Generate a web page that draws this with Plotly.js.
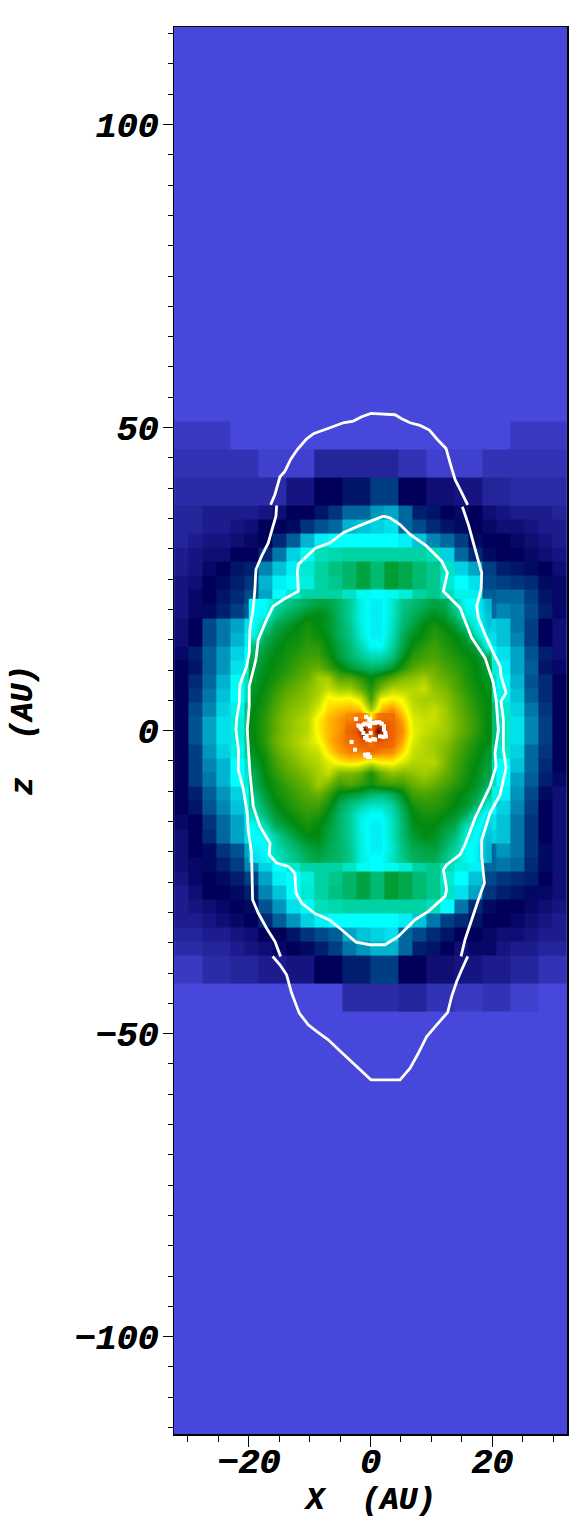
<!DOCTYPE html>
<html>
<head>
<meta charset="utf-8">
<script src="https://cdn.plot.ly/plotly-3.0.1.min.js"></script>
<style>
  html, body { margin: 0; padding: 0; background: #fff; }
</style>
</head>
<body>
<div id="chart" style="width:585px;height:1540px;"></div>
<script>
// Colour scale, values are on a 0-100 scale
const scaleStops = [0, 10, 20, 30, 40, 50, 60, 70, 75, 82, 90, 100];
const scaleColors = ['#4747db', '#00005a', '#00689e', '#00ffff', '#00c88c', '#008a10',
                     '#6ab000', '#c8e000', '#ffff00', '#ffa000', '#e85000', '#500000'];

// Coarse blocks (outer part of the grid), listed top to bottom
const blockX = [-32.24, -29.94, -27.63, -25.33, -23.03, -20.72, -18.42, -16.12, -13.82, -11.51, -9.21, -6.91, -4.61, -2.3, 0,
                2.3, 4.61, 6.91, 9.21, 11.51, 13.82, 16.12, 18.42, 20.72, 23.03, 25.33, 27.63, 29.94, 32.24];
const blockZ = [51, 46.4, 41.77, 37.13, 34.81, 32.49, 30.17, 27.85, 25.53, 23.21, 20.89, 18.57, 16.25, 13.93, 11.6, 9.28, 6.96, 4.64, 2.32, 0,
                -2.32, -4.64, -6.96, -9.28, -11.6, -13.93, -16.25, -18.57, -20.89, -23.21, -25.53, -27.85, -30.17, -32.49, -34.81, -37.13, -41.77, -46.4];
const blockRows = [
  [2,2,2,2,0,0,0,0,0,0,0,0,0,0,0,0,0,0,0,0,0,0,0,0,2,2,2,2],
  [3,3,3,3,3,3,1,1,1,1,5,5,5,5,5,5,3,3,1,1,1,1,3,3,3,3,3,3],
  [4,4,4,4,4,4,4,4,7,7,10,10,12,12,16,16,10,10,8,8,7,7,5,5,4,4,4,4],
  [5,5,6,6,6,6,7,8,10,10,12,15,20,20,23,24,20,13,12,10,9,10,8,7,6,6,6,5],
  [5,5,6,6,7,8,10,10,11,15,18,20,25,26,27,28,20,17,14,12,11,10,9,8,8,7,6,6],
  [5,6,7,7,8,9,10,14,19,25,29,30,30,30,30,30,29,26,22,20,16,11,10,10,9,8,7,6],
  [6,7,8,8,10,10,14,21,27,31,36,37,38,38,38,38,38,38,36,27,20,14,11,10,10,9,8,7],
  [6,7,9,10,12,13,22,26,29,34,38,41,43,46,42,47,45,42,40,35,27,24,16,13,12,11,10,8],
  [7,8,10,11,13,15,25,29,30,33,38,40,43,46,42,47,45,42,40,34,30,28,17,16,15,14,11,9],
  [7,9,10,12,14,17,24,30,34,38,38,38,35,31,30,31,33,38,40,36,32,29,19,20,20,16,12,9],
  [7,9,11,13,16,19,23,31,38,44,42,40,35,30,29,31,36,42,44,40,33,30,20,22,21,17,13,9],
  [8,10,17,21,24,28,36,50,50,50,50,50,50,50,50,50,50,50,50,50,50,36,27,26,21,16,10,8],
  [8,10,17,21,25,29,36,50,50,50,50,50,50,50,50,50,50,50,50,50,50,36,28,26,22,16,10,8],
  [9,13,19,23,27,30,38,50,50,50,50,50,50,50,50,50,50,50,50,50,50,38,30,28,24,18,13,8],
  [10,12,19,23,28,32,40,50,50,50,50,50,50,50,50,50,50,50,50,50,50,40,33,29,24,19,12,9],
  [10,14,20,25,31,36,45,50,50,50,50,50,50,50,50,50,50,50,50,50,50,45,36,31,25,18,14,10],
  [10,15,21,26,30,36,46,50,50,50,50,50,50,50,50,50,50,50,50,50,50,46,38,32,26,19,14,10],
  [10,17,22,27,32,40,48,50,50,50,50,50,50,50,50,50,50,50,50,50,50,48,42,34,27,21,15,10],
  [10,18,24,28,33,40,48,50,50,50,50,50,50,50,50,50,50,50,50,50,50,48,42,35,28,22,16,10],
  [10,18,24,28,33,40,48,50,50,50,50,50,50,50,50,50,50,50,50,50,50,48,42,35,28,22,16,10],
  [10,16,23,27,32,38,46,50,50,50,50,50,50,50,50,50,50,50,50,50,50,47,40,34,27,20,15,10],
  [10,16,22,25,30,35,44,50,50,50,50,50,50,50,50,50,50,50,50,50,50,46,37,30,26,20,14,10],
  [10,16,21,25,30,34,43,50,50,50,50,50,50,50,50,50,50,50,50,50,50,44,36,30,24,19,13,9],
  [10,13,19,23,27,31,40,50,50,50,50,50,50,50,50,50,50,50,50,50,50,40,32,29,23,17,11,8],
  [10,12,18,22,26,30,38,50,50,50,50,50,50,50,50,50,50,50,50,50,50,38,30,27,22,16,10,8],
  [9,10,15,20,24,28,36,50,50,50,50,50,50,50,50,50,50,50,50,50,50,36,28,26,21,15,10,8],
  [8,10,14,20,24,28,35,50,50,50,50,50,50,50,50,50,50,50,50,50,50,35,27,26,21,15,10,8],
  [8,10,11,15,18,24,31,38,44,44,42,40,35,30,29,31,36,42,44,40,33,30,20,23,21,15,11,8],
  [8,9,11,13,16,22,27,30,34,38,38,38,35,31,30,31,33,38,40,36,33,29,20,21,20,14,11,8],
  [7,9,10,11,13,16,24,29,30,33,38,40,43,46,42,47,45,42,40,34,30,26,17,15,14,13,10,8],
  [6,8,10,10,11,13,22,26,30,34,38,41,43,46,42,47,45,42,40,35,28,24,15,13,12,11,9,8],
  [6,7,8,9,10,11,18,23,28,31,36,37,38,38,38,38,38,38,36,30,21,14,11,10,10,9,8,7],
  [6,6,7,8,9,10,14,19,23,27,29,30,30,30,30,30,29,26,21,16,14,12,10,10,9,8,7,6],
  [5,5,6,6,7,8,10,10,12,15,17,19,24,26,27,28,20,17,14,12,10,10,9,8,8,7,6,6],
  [4,4,5,5,6,7,8,9,10,11,13,16,21,23,25,25,20,13,12,10,8,9,9,7,6,6,5,5],
  [2,2,4,4,5,5,6,6,7,7,10,10,13,13,16,16,10,10,8,8,7,7,6,6,5,5,3,3],
  [0,0,0,0,0,0,0,0,0,0,0,0,4,4,4,4,5,5,3,3,2,2,3,3,1,1,0,0]
];

// Smooth middle region, listed bottom to top
const smoothX = [-19.14,-17.4,-15.66,-13.92,-12.18,-10.44,-8.7,-6.96,-5.22,-3.48,-1.74,0,1.74,3.48,5.22,6.96,8.7,10.44,12.18,13.92,15.66,17.4,19.14];
const smoothZ = [-20.88,-19.14,-17.4,-15.66,-13.92,-12.18,-10.44,-8.7,-6.96,-5.22,-3.48,-1.74,0,1.74,3.48,5.22,6.96,8.7,10.44,12.18,13.92,15.66,17.4,19.14,20.88];
const smoothRows = [
  [28,29,34,38,41,44,46,44,43,40,33,30,30,35,40,44,45,45,41,36,31,29,25],
  [29,30,36,40,43,46,48,45,43,40,33,29,29,34,41,45,46,47,43,39,31,29,25],
  [30,31,38,43,47,50,50,46,43,39,33,29,29,35,42,47,50,49,45,42,33,30,26],
  [30,36,44,47,50,52,50,47,43,39,32,29,29,35,42,49,50,50,47,45,36,31,27],
  [36,42,47,50,52,54,53,49,43,39,33,30,30,36,43,50,52,52,50,48,44,35,28],
  [38,45,49,52,54,56,56,52,45,41,38,35,35,38,45,52,54,54,52,50,48,43,34],
  [41,47,51,53,56,58,60,56,49,47,46,43,42,44,49,56,57,56,54,51,49,46,40],
  [44,49,52,55,58,60,66,62,56,58,55,52,55,56,56,60,62,60,57,54,51,48,44],
  [45,50,54,58,60,63,66,70,62,62,60,52,60,64,62,64,66,64,60,56,52,49,46],
  [47,51,56,60,63,66,68,72,76,78,77,72,76,76,72,68,68,68,62,57,53,50,47],
  [49,52,58,62,65,68,70,77,82,85,85,88,85,84,78,70,68,66,62,58,54,51,48],
  [50,54,60,64,67,70,74,80,84,88,90,88,90,88,82,72,68,66,64,60,56,52,50],
  [50,54,59,63,66,68,76,80,83,88,92,92,92,88,84,73,70,68,66,62,58,54,50],
  [50,54,59,63,66,68,76,80,83,86,90,90,88,88,82,72,70,70,66,62,58,54,50],
  [50,53,58,62,64,66,72,78,80,81,80,66,80,84,78,70,68,70,66,61,57,53,50],
  [49,52,56,60,62,64,68,76,75,76,72,56,74,76,74,68,66,66,64,60,56,52,50],
  [48,51,54,58,60,63,66,70,66,66,60,53,62,68,68,68,70,64,62,58,54,51,49],
  [47,50,52,55,58,60,66,66,58,58,54,50,54,58,62,64,66,62,59,57,53,50,48],
  [46,49,51,53,56,58,60,56,51,47,45,43,44,47,53,58,60,60,57,55,52,50,47],
  [44,48,50,52,54,56,56,52,47,43,40,37,37,41,48,54,56,57,55,53,51,49,45],
  [42,46,49,51,52,54,54,50,46,42,37,31,30,38,45,51,54,56,53,51,49,46,31],
  [32,44,47,50,51,53,51,49,44,41,34,29,29,36,44,49,51,54,52,50,47,36,28],
  [30,38,45,47,50,52,50,48,44,40,33,29,29,35,42,46,50,52,50,47,40,31,26],
  [30,31,40,44,46,49,50,48,43,39,32,29,29,34,41,44,47,49,47,42,33,30,26],
  [30,30,36,40,42,44,46,46,43,39,33,29,29,34,40,42,44,46,45,38,30,30,25]
];

// Hot core, listed bottom to top
const coreX = [-3.48,-2.32,-1.16,0,1.16,2.32,3.48];
const coreZ = [-2.32,-1.16,0,1.16,2.32];
const coreRows = [
  [86,87,88,87,88,88,87],
  [87,88,92,86,92,89,88],
  [88,90,100,86,100,90,88],
  [87,88,92,86,92,89,88],
  [84,86,85,76,86,87,87]
];

// White contours
const topArcX = [-16.42,-15.71,-14.88,-14.06,-13.13,-12.03,-10.5,-9.29,-6.66,-4.47,-2.82,-1.45,0.08,2.11,4.03,5.13,6.5,8.14,9.68,10.88,12.42,13.08,13.9,14.72,15.98];
const topArcZ = [37.26,38.97,41.88,42.82,44.74,46.39,48.16,49.04,49.97,50.8,51.07,51.79,52.34,52.23,52.12,51.46,50.8,50.36,49.59,48.16,46.56,44.19,41.44,39.79,37.26];
const leftSideX = [-15.43,-15.54,-16.26,-16.8,-17.9,-18.83,-19,-19.27,-19.82,-19.93,-20.37,-21.46,-21.57,-22.01,-22.12,-21.7,-21.74,-20.9,-20.26,-20.1,-19.55,-19.44,-19.38,-18.45,-17.08,-15.7,-14.78];
const leftSideZ = [37.15,35.39,32.91,30.98,28.78,26.58,23.28,20.25,16.68,12.82,10.62,7.6,4.57,1.82,0.17,-3.14,-6.44,-9.74,-13.6,-16.35,-20.2,-24.05,-27.9,-30.1,-32.6,-34.8,-37.26];
const rightSideX = [15.1,16.09,16.91,17.73,18.28,18.17,17.46,17.73,18.83,20.2,21.3,21.46,22.29,21.46,21.85,21.85,21.85,22.29,21.3,19.65,18.28,18.28,18.72,17.73,16.64,15.54,14.88];
const rightSideZ = [36.93,34.01,30.98,28.23,26.03,23.28,20.53,18.6,15.85,12.82,10.62,8.97,6.22,4.84,1.82,0.17,-3.14,-6.17,-10.57,-13.6,-18,-20.75,-25.15,-27.9,-31.2,-34.5,-37.26];
const bottomArcX = [-16.09,-14.89,-13.79,-12.97,-11.71,-10.23,-8.85,-6.94,-4.74,-2.28,0.08,4.85,6.5,7.87,9.24,10.88,12.69,13.35,14.17,14.99,15.98];
const bottomArcZ = [-37.26,-38.64,-40.29,-43.31,-46.62,-48.54,-49.64,-51.02,-53.11,-55.42,-57.62,-57.62,-55.7,-53.22,-50.47,-48.54,-46.5,-43.86,-41.39,-39.46,-37.26];
const innerX = [2.11,-0.08,-2,-4.47,-6.66,-9.13,-11.87,-12.03,-11.87,-14.34,-15.98,-17.08,-18.45,-18.84,-19.93,-19.93,-20.26,-19.82,-19.27,-18.17,-16.53,-16.64,-15.43,-13.51,-12.42,-12.25,-11.32,-9.13,-6.66,-4.74,-2.39,-0.08,2.38,4.58,7.32,9.51,12.25,12.53,11.98,12.53,14.72,15.54,17.19,19.65,20.64,20.47,21.03,20.64,20.2,18.83,16.64,14.72,11.98,12.64,11.7,9.24,6.5,4.85,3.2,2.11];
const innerZ = [35.39,34.56,33.74,32.64,30.98,30.05,27.41,26.03,23,21.63,20.53,18.33,15.02,11.72,7.32,4.02,0.17,-6.99,-12.49,-15.8,-18.55,-20.47,-21.85,-22.4,-23.5,-26.8,-28.45,-30.2,-31.3,-32.86,-34.9,-35.33,-35.33,-33.96,-31.2,-29.83,-27.35,-26.25,-22.95,-22.13,-20.47,-18.8,-14.42,-9.2,-5.89,-3.69,0.17,5.12,7.87,12,15.3,20.25,23,26.03,27.96,30.43,32.36,34,35.1,35.39];

// Specks around the centre
const speckX = [-2.38,-0.74,-0.08,-0.19,-1.73,-2,-1.62,-1.45,-1.18,-0.9,-0.36,-0.08,0.19,0.74,1.01,1.45,1.84,2.22,2.22,2.44,2.55,2.11,1.56,0.74,0.47,-0.08,-0.52,-0.9,-0.63,-1.18,0.03,-3.1,-2.55,-0.9,-0.74,-0.36,-0.36,-0.08];
const speckZ = [1.93,2.26,1.93,1.7,0.72,0.83,0.44,0.17,0.99,1.16,0.99,0.72,1.27,1.27,1.38,1.38,1.16,0.72,0.17,-0.39,-0.94,-1.05,-0.94,-1.49,-1.38,-1.6,-1.49,-1.2,-0.83,-0.39,-0.39,-1.87,-3.14,-3.96,-4.13,-3.91,-4.35,-4.35];

const xTickVals = [-20, 0, 20];
const zTickVals = [-100, -50, 0, 50, 100];
const tickFont = { family: 'Liberation Mono, monospace', size: 35, color: '#000', weight: 'bold', style: 'italic', shadow: '0.6px 0 0 #000' };
const titleFont = { family: 'Liberation Mono, monospace', size: 31, color: '#000', weight: 'bold', style: 'italic', shadow: '0.6px 0 0 #000' };

const colorscale = scaleStops.map((s, i) => [s / 100, scaleColors[i]]);

function heat(x, y, z, smooth) {
    return {
        type: 'heatmap', x: x, y: y, z: z, zmin: 0, zmax: 100,
        colorscale: colorscale, showscale: false, zsmooth: smooth, hoverinfo: 'skip'
    };
}

function contour(x, y) {
    return { type: 'scatter', mode: 'lines', x: x, y: y, line: { color: '#fff', width: 2.8 }, hoverinfo: 'skip' };
}

const traces = [
    heat(blockX, blockZ.slice().reverse(), blockRows.slice().reverse(), false),
    heat(smoothX, smoothZ, smoothRows, 'best'),
    heat(coreX, coreZ, coreRows, 'best'),
    contour(topArcX, topArcZ),
    contour(leftSideX, leftSideZ),
    contour(rightSideX, rightSideZ),
    contour(bottomArcX, bottomArcZ),
    contour(innerX, innerZ),
    { type: 'scatter', mode: 'markers', x: speckX, y: speckZ,
      marker: { color: '#fff', size: 4, symbol: 'square' }, hoverinfo: 'skip' }
];

const layout = {
    width: 585, height: 1540, showlegend: false,
    margin: { l: 174, r: 18, t: 27, b: 106, pad: 0 },
    paper_bgcolor: '#fff', plot_bgcolor: '#4747db',
    xaxis: {
        range: [-32.3, 32.3], tickmode: 'array', tickvals: xTickVals,
        ticks: 'outside', ticklen: 11, tickwidth: 1, tickcolor: '#000', ticklabelstandoff: -16,
        minor: { dtick: 5, ticks: 'outside', ticklen: 6, tickwidth: 1, tickcolor: '#000' },
        showline: true, linecolor: '#000', linewidth: 1.5, mirror: true,
        showgrid: false, zeroline: false, tickfont: tickFont,
        title: { text: 'X\u00a0\u00a0(AU)', font: titleFont, standoff: 0 }
    },
    yaxis: {
        range: [-116.06, 116.1], tickmode: 'array', tickvals: zTickVals,
        ticks: 'outside', ticklen: 10, tickwidth: 1, tickcolor: '#000', ticklabelstandoff: -3,
        minor: { dtick: 5, ticks: 'outside', ticklen: 5, tickwidth: 1, tickcolor: '#000' },
        showline: true, linecolor: '#000', linewidth: 1.5, mirror: true,
        showgrid: false, zeroline: false, tickfont: tickFont,
        title: { text: 'z\u00a0\u00a0(AU)', font: titleFont, standoff: 32 }
    }
};

Plotly.newPlot('chart', traces, layout, { displayModeBar: false, staticPlot: true });
</script>
</body>
</html>
